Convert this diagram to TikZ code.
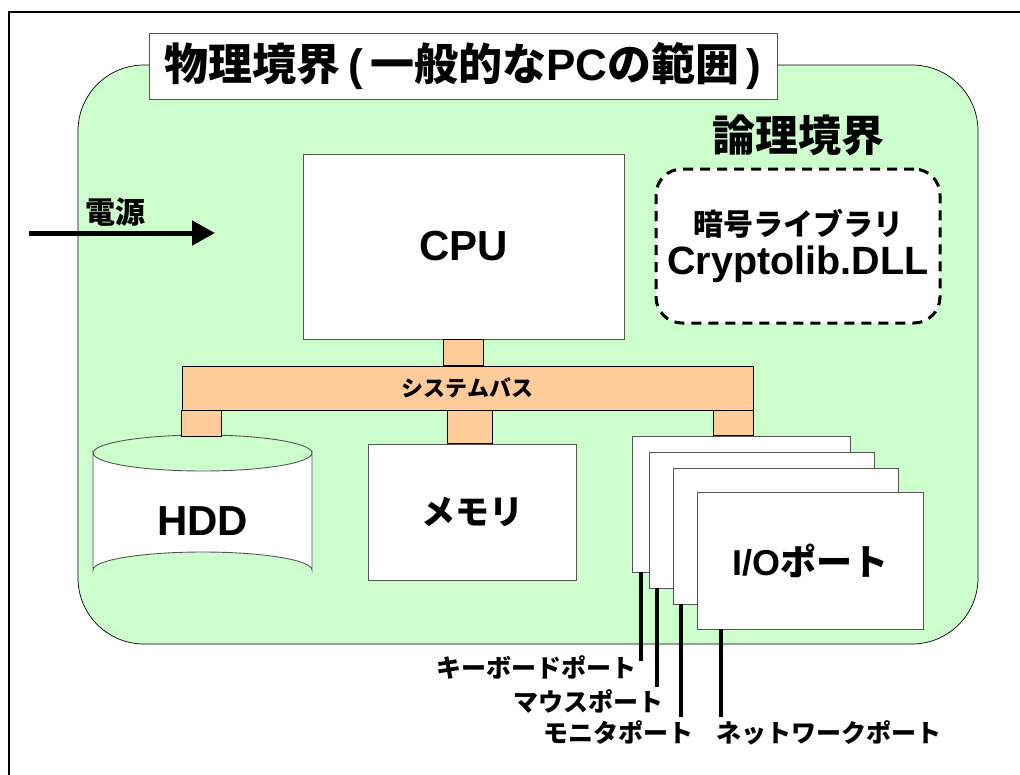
\documentclass[tikz,border=0pt]{standalone}
\usepackage{fontspec}
\setmainfont{Liberation Sans}
\newfontfamily\cjk{Noto Sans CJK JP}
\usetikzlibrary{arrows.meta}
\newcommand\jp[1]{{\cjk #1}}
\newcommand\fsz[1]{\fontsize{#1}{#1}\selectfont\bfseries}
\definecolor{zone}{HTML}{CCFFCC}
\definecolor{bus}{HTML}{FFCC99}
\definecolor{edge}{HTML}{555555}

\begin{document}
\begin{tikzpicture}[x=1pt,y=-1pt,
  box/.style={draw=edge, fill=white, line width=0.9pt, inner sep=0pt},
  busbox/.style={draw=black, fill=bus, line width=0.7pt},
  port/.style={line width=3.5pt, black},
  portlabel/.style={inner sep=0pt, font=\fsz{25}},
]
\useasboundingbox (0,0) rectangle (1020,774);
\begin{scope}
\clip (0,0) rectangle (1020,774);
\draw[line width=2.2pt] (9,12) rectangle (1040,800);
\end{scope}

% physical boundary (green zone)
\draw[fill=zone, draw=black, line width=0.7pt, rounded corners=66pt] (78,65) rectangle (978,644);
\node[box, minimum width=628pt, minimum height=66pt] (title) at (463,66)
  {\fsz{44}\jp{物理境界}\,(\,\jp{一般的な}PC\jp{の範囲}\,)};

% logical boundary
\node[inner sep=0pt] (logic) at (798,135) {\fsz{43}\jp{論理境界}};
\node[draw=black, fill=white, line width=3pt, dash pattern=on 10pt off 7pt,
      rounded corners=26pt, minimum width=284pt, minimum height=154pt,
      align=center, inner sep=0pt] (dll) at (798,246)
  {\fsz{30}\jp{暗号ライブラリ}\\[6pt]\fsz{39.5}Cryptolib.DLL};

% power input
\coordinate (pwrA) at (29,233);
\coordinate (pwrB) at (215,233);
\draw[line width=5pt, -{Triangle[length=23pt,width=24pt]}] (pwrA) -- (pwrB);
\node[inner sep=0pt] (pwr) at (115,212) {\fsz{30}\jp{電源}};

% CPU and system bus
\node[box, minimum width=321pt, minimum height=185pt] (cpu) at (463.5,246.5) {\fsz{42}CPU};
\node[busbox, minimum width=571pt, minimum height=44pt, inner sep=0pt] (bus) at (467.5,388)
  {\fsz{22}\jp{システムバス}};
\draw[busbox] ([xshift=-20pt]cpu.south) rectangle ([xshift=20pt]cpu.south |- bus.north);

% HDD cylinder
\coordinate (hddtop) at (202.5,436);
\draw[box] (93,453) -- (93,570)
  arc[start angle=180, end angle=0, x radius=109.5pt, y radius=18pt]
  -- (312,453)
  arc[start angle=0, end angle=-180, x radius=109.5pt, y radius=18pt] -- cycle;
\draw[draw=edge, line width=0.9pt] (93,453)
  arc[start angle=180, end angle=0, x radius=109.5pt, y radius=18pt];
\node[inner sep=0pt] (hdd) at (202.5,521) {\fsz{42}HDD};

% memory
\node[box, minimum width=208pt, minimum height=136pt] (mem) at (472,512) {\fsz{34}\jp{メモリ}};

% stacked I/O ports
\node[box, minimum width=218pt, minimum height=136pt] (io1) at (741,504) {};
\node[box, minimum width=225pt, minimum height=136pt] (io2) at (761.5,520) {};
\node[box, minimum width=225pt, minimum height=136pt] (io3) at (785.5,536) {};
\node[box, minimum width=226pt, minimum height=137pt] (io4) at (810,560.5) {\fsz{36}I/O\jp{ポート}};

% bus legs
\draw[busbox] (bus.south west) rectangle ([xshift=40pt]bus.south west |- hddtop);
\draw[busbox] ([xshift=-20pt]bus.south) rectangle ([xshift=20pt]mem.north);
\draw[busbox] ([xshift=-40pt]bus.south east) rectangle (bus.south east |- io1.north);

% port leads and labels
\coordinate (kbEnd) at (641,661);
\coordinate (msEnd) at (657,687);
\coordinate (mnEnd) at (681,717);
\coordinate (nwEnd) at (721,717);
\draw[port] (kbEnd |- io1.south) -- (kbEnd);
\draw[port] (msEnd |- io2.south) -- (msEnd);
\draw[port] (mnEnd |- io3.south) -- (mnEnd);
\draw[port] (nwEnd |- io4.south) -- (nwEnd);
\node[portlabel, anchor=east] (kb) at (637,667) {\jp{キーボードポート}};
\node[portlabel, anchor=east] (ms) at (664,702) {\jp{マウスポート}};
\node[portlabel, anchor=east] (mn) at (694,733) {\jp{モニタポート}};
\node[portlabel, anchor=west] (nw) at (716,733) {\jp{ネットワークポート}};
\end{tikzpicture}
\end{document}
